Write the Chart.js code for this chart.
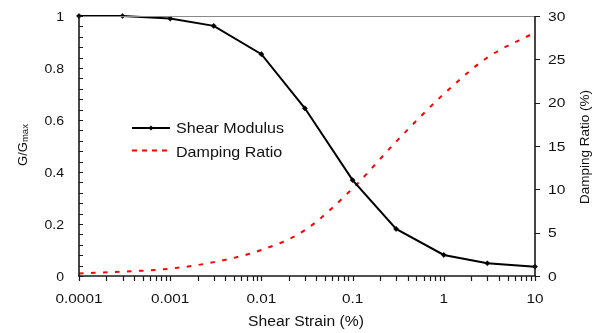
<!DOCTYPE html>
<html><head><meta charset="utf-8">
<script src="https://cdn.jsdelivr.net/npm/chart.js@4/dist/chart.umd.min.js"></script>
<style>html,body{margin:0;padding:0;background:#fff}#wrap{width:601px;height:333px}</style>
</head><body><div id="wrap"><canvas id="c" width="601" height="333"></canvas></div>
<script>
// ---- data ----
const strain = [0.0001, 0.0003, 0.001, 0.003, 0.01, 0.03, 0.1, 0.3, 1, 3, 10];
const shearModulus = [1.0, 1.0, 0.99, 0.962, 0.853, 0.645, 0.369, 0.181, 0.081, 0.049, 0.036];
const dampingRatio = [0.3, 0.5, 0.85, 1.6, 3.0, 5.3, 10.1, 15.5, 21.0, 25.2, 28.1];

const xTickValues = [0.0001, 0.001, 0.01, 0.1, 1, 10];
const xTickLabels = ['0.0001', '0.001', '0.01', '0.1', '1', '10'];
const yTickValues = [0, 0.2, 0.4, 0.6, 0.8, 1];
const yTickLabels = ['0', '0.2', '0.4', '0.6', '0.8', '1'];
const y2TickValues = [0, 5, 10, 15, 20, 25, 30];
const y2TickLabels = ['0', '5', '10', '15', '20', '25', '30'];
const yMinorStep = 0.04;

const seriesNames = ['Shear Modulus', 'Damping Ratio'];
const xTitle = 'Shear Strain (%)';
const yTitleMain = 'G/G';
const yTitleSub = 'max';
const y2Title = 'Damping Ratio (%)';

const FONT = '"Liberation Sans", Arial, sans-serif';

function stretchedText(ctx, txt, x, y, size, sx, align) {
  ctx.save();
  ctx.font = size + 'px ' + FONT;
  const w = ctx.measureText(txt).width * sx;
  let left = x;
  if (align === 'center') left = x - w / 2;
  else if (align === 'right') left = x - w;
  ctx.translate(left, y);
  ctx.scale(sx, 1);
  ctx.textAlign = 'left';
  ctx.textBaseline = 'alphabetic';
  ctx.fillText(txt, 0, 0);
  ctx.restore();
}

const decor = {
  id: 'decor',
  afterDatasetsDraw(chart) {
    const ctx = chart.ctx, a = chart.chartArea;
    const x = chart.scales.x, y = chart.scales.y, y2 = chart.scales.y2;
    ctx.save();
    // top frame line
    ctx.strokeStyle = '#8a8a8a'; ctx.lineWidth = 1;
    ctx.beginPath(); ctx.moveTo(a.left, a.top + 0.5); ctx.lineTo(a.right, a.top + 0.5); ctx.stroke();
    // axes
    ctx.strokeStyle = '#1a1a1a'; ctx.lineWidth = 1.6;
    ctx.beginPath();
    ctx.moveTo(a.left, a.top); ctx.lineTo(a.left, a.bottom);
    ctx.moveTo(a.left - 1, a.bottom); ctx.lineTo(a.right + 1, a.bottom);
    ctx.moveTo(a.right, a.top); ctx.lineTo(a.right, a.bottom);
    ctx.stroke();
    // tick marks
    ctx.lineWidth = 1.2;
    ctx.beginPath();
    for (let v = 0; v <= 1.0001; v += yMinorStep) {
      const py = Math.round(y.getPixelForValue(v)) + 0.5;
      ctx.moveTo(a.left, py); ctx.lineTo(a.left + 4, py);
    }
    for (const v of y2TickValues) {
      const py = Math.round(y2.getPixelForValue(v)) + 0.5;
      ctx.moveTo(a.right, py); ctx.lineTo(a.right + 5, py);
    }
    for (let d = 0; d < xTickValues.length; d++) {
      const base = xTickValues[d];
      const mult = d < xTickValues.length - 1 ? [1, 2, 3, 4, 5, 6, 7, 8, 9] : [1];
      for (const m of mult) {
        const px = Math.round(x.getPixelForValue(base * m)) + 0.5;
        ctx.moveTo(px, a.bottom); ctx.lineTo(px, a.bottom + 5);
      }
    }
    ctx.stroke();

    // tick labels
    ctx.fillStyle = '#111';
    xTickValues.forEach((v, i) => stretchedText(ctx, xTickLabels[i], x.getPixelForValue(v), 303, 13, 1.18, 'center'));
    yTickValues.forEach((v, i) => stretchedText(ctx, yTickLabels[i], 64, y.getPixelForValue(v) + 5.2, 13, 1.08, 'right'));
    y2TickValues.forEach((v, i) => stretchedText(ctx, y2TickLabels[i], 548, y2.getPixelForValue(v) + 4.7, 13, 1.2, 'left'));

    // axis titles
    stretchedText(ctx, xTitle, 306, 326, 14, 1.12, 'center');
    // right title (reads bottom to top)
    ctx.save();
    ctx.translate(589, 147); ctx.rotate(-Math.PI / 2);
    ctx.font = '13.5px ' + FONT; ctx.textAlign = 'center'; ctx.textBaseline = 'alphabetic';
    ctx.fillText(y2Title, 0, 0);
    ctx.restore();
    // left title with subscript
    ctx.save();
    ctx.translate(27, 145); ctx.rotate(-Math.PI / 2);
    ctx.font = '13px ' + FONT;
    const w1 = ctx.measureText(yTitleMain).width;
    ctx.font = '9.5px ' + FONT;
    const w2 = ctx.measureText(yTitleSub).width;
    const start = -(w1 + w2) / 2;
    ctx.textAlign = 'left'; ctx.textBaseline = 'alphabetic';
    ctx.font = '13px ' + FONT; ctx.fillText(yTitleMain, start, 0);
    ctx.font = '9.5px ' + FONT; ctx.fillText(yTitleSub, start + w1, 1);
    ctx.restore();

    // legend
    ctx.strokeStyle = '#000'; ctx.lineWidth = 2; ctx.setLineDash([]);
    ctx.beginPath(); ctx.moveTo(132, 128); ctx.lineTo(170, 128); ctx.stroke();
    ctx.fillStyle = '#000';
    ctx.beginPath(); ctx.moveTo(151, 125.5); ctx.lineTo(153.5, 128); ctx.lineTo(151, 130.5); ctx.lineTo(148.5, 128); ctx.closePath(); ctx.fill();
    ctx.strokeStyle = '#ff0000'; ctx.setLineDash([5, 5]);
    ctx.beginPath(); ctx.moveTo(132, 150.5); ctx.lineTo(169, 150.5); ctx.stroke();
    ctx.setLineDash([]);
    ctx.fillStyle = '#111';
    stretchedText(ctx, seriesNames[0], 176, 133.3, 15, 1.07, 'left');
    stretchedText(ctx, seriesNames[1], 176, 156.5, 15, 1.07, 'left');
    ctx.restore();
  }
};

new Chart(document.getElementById('c'), {
  type: 'line',
  data: {
    datasets: [
      {
        label: seriesNames[0],
        data: strain.map((s, i) => ({ x: s, y: shearModulus[i] })),
        yAxisID: 'y',
        borderColor: '#000', borderWidth: 2,
        pointStyle: 'rectRot', pointRadius: 2.6, pointBackgroundColor: '#000', pointBorderColor: '#000', pointBorderWidth: 0.5,
        tension: 0, clip: false
      },
      {
        label: seriesNames[1],
        data: strain.map((s, i) => ({ x: s, y: dampingRatio[i] })),
        yAxisID: 'y2',
        borderColor: '#ff0000', borderWidth: 2, borderDash: [4.5, 7.5], borderCapStyle: 'butt',
        pointRadius: 0, cubicInterpolationMode: 'monotone', clip: false
      }
    ]
  },
  options: {
    responsive: false, devicePixelRatio: 1, animation: false,
    layout: { padding: { top: 16, left: 0, right: 0, bottom: 0 } },
    plugins: { legend: { display: false }, tooltip: { enabled: false } },
    scales: {
      x: {
        type: 'logarithmic', position: 'bottom', min: 0.0001, max: 10,
        grid: { display: false }, border: { display: false }, ticks: { display: false },
        afterFit: s => { s.height = 57; }
      },
      y: {
        position: 'left', min: 0, max: 1,
        grid: { display: false }, border: { display: false }, ticks: { display: false },
        afterFit: s => { s.width = 79; }
      },
      y2: {
        position: 'right', min: 0, max: 30,
        grid: { display: false }, border: { display: false }, ticks: { display: false },
        afterFit: s => { s.width = 66; }
      }
    }
  },
  plugins: [decor]
});
</script>
</body></html>
